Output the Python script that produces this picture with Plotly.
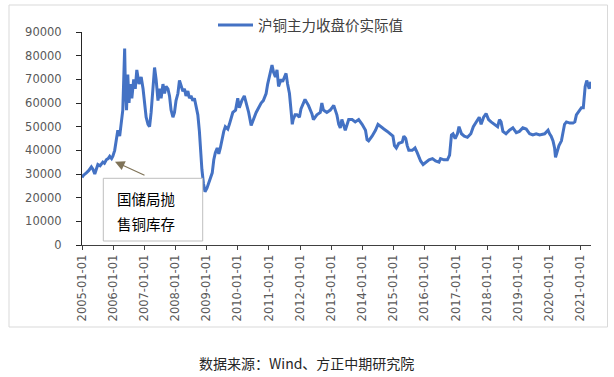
import pandas as pd
import plotly.graph_objects as go

years = [
    2005.00, 2005.05, 2005.14, 2005.22, 2005.30, 2005.35, 2005.41, 2005.46, 2005.51, 2005.58,
    2005.67, 2005.72, 2005.78, 2005.84, 2005.89, 2005.95, 2005.99, 2006.05, 2006.10, 2006.15,
    2006.21, 2006.26, 2006.31, 2006.34, 2006.37, 2006.39, 2006.40, 2006.43, 2006.45, 2006.47,
    2006.51, 2006.55, 2006.60, 2006.66, 2006.71, 2006.76, 2006.83, 2006.90, 2006.96, 2007.01,
    2007.06, 2007.12, 2007.17, 2007.22, 2007.28, 2007.33, 2007.38, 2007.44, 2007.49, 2007.54,
    2007.60, 2007.65, 2007.70, 2007.76, 2007.81, 2007.86, 2007.92, 2007.97, 2008.02, 2008.08,
    2008.13, 2008.18, 2008.24, 2008.29, 2008.34, 2008.40, 2008.45, 2008.50, 2008.56, 2008.61,
    2008.66, 2008.72, 2008.77, 2008.80, 2008.85, 2008.90, 2008.95, 2009.01, 2009.07, 2009.12,
    2009.18, 2009.23, 2009.28, 2009.34, 2009.39, 2009.44, 2009.50, 2009.55, 2009.60, 2009.68,
    2009.73, 2009.79, 2009.84, 2009.93, 2010.00, 2010.05, 2010.13, 2010.21, 2010.29, 2010.35,
    2010.43, 2010.50, 2010.59, 2010.67, 2010.75, 2010.82, 2010.91, 2010.96, 2011.04, 2011.10,
    2011.15, 2011.21, 2011.26, 2011.31, 2011.39, 2011.44, 2011.50, 2011.55, 2011.60, 2011.66,
    2011.71, 2011.75, 2011.78, 2011.84, 2011.90, 2011.98, 2012.03, 2012.08, 2012.16, 2012.27,
    2012.38, 2012.43, 2012.54, 2012.65, 2012.70, 2012.75, 2012.86, 2012.97, 2013.08, 2013.13,
    2013.18, 2013.24, 2013.29, 2013.34, 2013.40, 2013.45, 2013.56, 2013.67, 2013.77, 2013.88,
    2013.99, 2014.10, 2014.15, 2014.20, 2014.31, 2014.42, 2014.50, 2014.58, 2014.69, 2014.80,
    2014.90, 2014.98, 2015.03, 2015.09, 2015.17, 2015.28, 2015.33, 2015.39, 2015.44, 2015.49,
    2015.60, 2015.69, 2015.76, 2015.82, 2015.87, 2015.95, 2016.03, 2016.14, 2016.25, 2016.35,
    2016.46, 2016.51, 2016.62, 2016.73, 2016.80, 2016.86, 2016.91, 2016.98, 2017.05, 2017.10,
    2017.18, 2017.27, 2017.37, 2017.48, 2017.56, 2017.65, 2017.75, 2017.81, 2017.89, 2017.97,
    2018.05, 2018.13, 2018.24, 2018.34, 2018.40, 2018.45, 2018.51, 2018.61, 2018.72, 2018.83,
    2018.94, 2019.04, 2019.15, 2019.26, 2019.37, 2019.47, 2019.58, 2019.69, 2019.85, 2019.96,
    2020.01, 2020.06, 2020.12, 2020.17, 2020.20, 2020.26, 2020.31, 2020.39, 2020.44, 2020.49,
    2020.55, 2020.66, 2020.76, 2020.82, 2020.87, 2020.96, 2021.03, 2021.09, 2021.12, 2021.15,
    2021.20, 2021.24, 2021.28, 2021.33,
]
prices = [
    28500, 29500, 30500, 31500, 33000, 32000, 30000, 32500, 34000, 33500,
    35000, 34500, 36000, 36500, 37500, 36500, 37500, 40000, 44000, 48500,
    46000, 50500, 57000, 70000, 83000, 68000, 62000, 57000, 65000, 72000,
    60000, 68000, 62000, 70000, 66000, 74000, 68000, 71000, 66000, 60000,
    54000, 51000, 50000, 56000, 66000, 75000, 70000, 61000, 66000, 62000,
    68000, 64000, 67000, 66000, 63000, 57000, 54000, 56000, 61000, 64000,
    69500, 67000, 65000, 66000, 63000, 65000, 62000, 63000, 61000, 62000,
    59000, 55000, 48000, 40000, 32000, 26000, 22500, 24000, 26000, 28000,
    30500, 36000, 39000, 41000, 38500, 41000, 45000, 48000, 50000, 49000,
    51000, 54000, 56000, 57000, 62000, 58000, 61000, 63000, 59000, 56000,
    50500, 53000, 56000, 58000, 60000, 61000, 64000, 68000, 72000, 76000,
    73000, 71000, 74000, 67000, 70000, 69000, 71000, 72500, 68000, 64000,
    57000, 51000, 53000, 55000, 55000, 54000, 57500, 59000, 61500, 59000,
    55500, 53000, 55000, 56000, 60000, 57000, 56000, 57000, 59000, 57000,
    55000, 51000, 49500, 53000, 50500, 48500, 53000, 53000, 52000, 53000,
    51000, 48500, 44500, 44000, 46000, 48500, 51000, 50000, 49000, 48000,
    47000, 46000, 42000, 41000, 43000, 43500, 46000, 45000, 42000, 40000,
    40000, 41000, 39000, 37000, 35500, 34000, 35000, 36000, 36500, 35500,
    35000, 36500, 36000, 36000, 38000, 46500, 47000, 45000, 47000, 50000,
    47000, 46000, 45500, 47000, 50000, 52000, 54000, 51000, 54000, 55500,
    53000, 52000, 51000, 50000, 53000, 52000, 48000, 47000, 48500, 49500,
    47500, 48000, 49500, 49000, 47000, 46500, 47000, 46500, 47000, 48500,
    47000, 46000, 44000, 41000, 37000, 40000, 42000, 44000, 47000, 51000,
    52000, 51500, 51500, 52000, 55000, 57000, 58000, 58000, 62000, 67000,
    69500, 68000, 66000, 69000,
]
series_name = "沪铜主力收盘价实际值"
y_ticks = [0, 10000, 20000, 30000, 40000, 50000, 60000, 70000, 80000, 90000]
note_lines = ["国储局抛", "售铜库存"]
source_text = "数据来源：Wind、方正中期研究院"


def to_date(y):
    yr = int(y)
    return pd.Timestamp(yr, 1, 1) + pd.Timedelta(days=(y - yr) * 365.25)


dates = [to_date(y) for y in years]

fig = go.Figure()
fig.add_trace(go.Scatter(
    x=dates, y=prices, mode="lines", name=series_name,
    line=dict(color="#4472C4", width=3),
))

W, H = 614, 377
L, R, T, B = 82, 23, 32, 132
pw, ph = W - L - R, H - T - B


def px(xp):
    return (xp - L) / pw


def py(yp):
    return (H - B - yp) / ph


tick_font = dict(family="DejaVu Sans", size=11.5, color="#595959")
cjk = "Noto Sans CJK SC"

fig.update_layout(
    width=W, height=H,
    margin=dict(l=L, r=R, t=T, b=B, autoexpand=False),
    paper_bgcolor="white", plot_bgcolor="white",
    showlegend=True,
    legend=dict(
        orientation="h", x=px(213), y=py(25), xanchor="left", yanchor="middle",
        font=dict(family=cjk, size=14.5, color="#404040"),
        bgcolor="rgba(0,0,0,0)", itemwidth=35,
    ),
    xaxis=dict(
        type="date", automargin=False,
        range=[pd.Timestamp("2005-01-01"), pd.Timestamp("2021-05-04")],
        tick0="2005-01-01", dtick="M12", tickformat="%Y-%m-%d",
        tickangle=-90, ticks="outside", ticklen=4, tickcolor="#404040",
        showline=True, linecolor="#404040", linewidth=1,
        showgrid=False, zeroline=False, tickfont=tick_font,
    ),
    yaxis=dict(
        automargin=False,
        range=[0, 90000], tickvals=y_ticks, ticktext=[str(v) for v in y_ticks],
        ticks="outside", ticklen=5, tickcolor="#262626",
        showline=True, linecolor="#262626", linewidth=1,
        showgrid=False, zeroline=False, tickfont=tick_font,
        ticklabelstandoff=12,
    ),
)

shapes = [
    dict(type="rect", xref="paper", yref="paper",
         x0=px(9), x1=px(607.5), y0=py(327), y1=py(5),
         line=dict(color="#D9D9D9", width=1), fillcolor="rgba(0,0,0,0)", layer="below"),
    dict(type="rect", xref="paper", yref="paper",
         x0=px(103.3), x1=px(202.7), y0=py(241), y1=py(178.3),
         line=dict(color="#BFBFBF", width=1), fillcolor="white", layer="above"),
]
fig.update_layout(shapes=shapes)

for line_text, cy in zip(note_lines, [198.3, 223.3]):
    fig.add_annotation(xref="paper", yref="paper", x=px(146), y=py(cy), text=line_text,
                       xanchor="center", yanchor="middle", showarrow=False,
                       font=dict(family=cjk, size=14.5, color="black"))
fig.add_annotation(xref="paper", yref="paper", x=px(115), y=py(161.7), text="",
                   showarrow=True, ax=31, ay=14.3, arrowhead=2, arrowsize=1.6,
                   arrowwidth=1.2, arrowcolor="#7F7358")
fig.add_annotation(xref="paper", yref="paper", x=px(306.5), y=py(363), text=source_text,
                   xanchor="center", yanchor="middle", showarrow=False,
                   font=dict(family=cjk, size=14, color="#262626"))

fig.write_html("out.html", config={"displayModeBar": False},
               post_script="document.body.style.margin='0';")
